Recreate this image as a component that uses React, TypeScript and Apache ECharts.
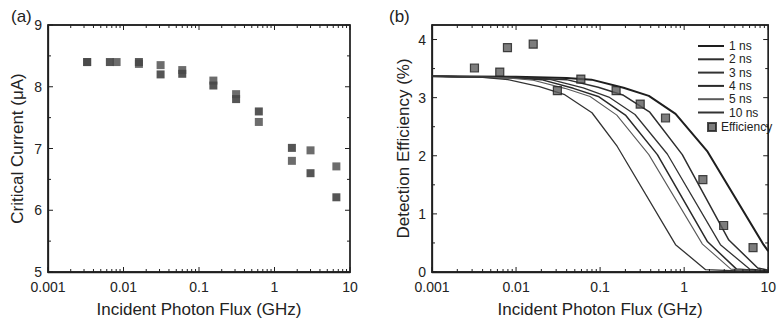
import React, { useEffect, useRef } from 'react';
import * as echarts from 'echarts';

// ---------- axis structure ----------
const X_TICK_LABELS = ['0.001', '0.01', '0.1', '1', '10'];
const X_MIN = 0.001;
const X_MAX = 10;
const X_MAJORS = [0.001, 0.01, 0.1, 1, 10];
const DECADES = [0.001, 0.01, 0.1, 1];
const MINOR_MULTS = [2, 3, 4, 5, 6, 7, 8, 9];
const LEFT_Y_MIN = 5;
const LEFT_Y_MAX = 9;
const LEFT_Y_MAJORS = [5, 6, 7, 8, 9];
const LEFT_Y_MINORS = [5.5, 6.5, 7.5, 8.5];
const RIGHT_Y_MIN = 0;
const RIGHT_Y_MAX = 4.25;
const RIGHT_Y_MAJORS = [0, 1, 2, 3, 4];
const RIGHT_Y_MINORS = [0.5, 1.5, 2.5, 3.5];

// ---------- (a) critical current ----------
const CURRENT_SET_A: [number, number][] = [
  [0.0033, 8.4], [0.0066, 8.4], [0.016, 8.4], [0.031, 8.2], [0.06, 8.21],
  [0.155, 8.02], [0.31, 7.8], [0.62, 7.6], [1.7, 7.01], [3.0, 6.6], [6.6, 6.21],
];
const CURRENT_SET_B: [number, number][] = [
  [0.0033, 8.4], [0.0081, 8.4], [0.016, 8.37], [0.031, 8.35], [0.06, 8.27],
  [0.155, 8.1], [0.31, 7.88], [0.62, 7.43], [1.7, 6.8], [3.0, 6.97], [6.6, 6.71],
];

// ---------- (b) detection efficiency ----------
const EFFICIENCY: [number, number][] = [
  [0.0032, 3.51], [0.0064, 3.44], [0.0079, 3.86], [0.016, 3.92], [0.031, 3.12],
  [0.059, 3.32], [0.155, 3.12], [0.3, 2.89], [0.6, 2.65], [1.67, 1.59],
  [2.95, 0.8], [6.6, 0.42],
];
const CURVE_1NS: [number, number][] = [
  [0.001, 3.37], [0.01, 3.36], [0.04, 3.34], [0.079, 3.31], [0.19, 3.17],
  [0.38, 3.03], [0.79, 2.72], [1.9, 2.07], [8.8, 0.47], [10, 0.36],
];
const CURVE_2NS: [number, number][] = [
  [0.001, 3.37], [0.01, 3.35], [0.04, 3.31], [0.095, 3.18], [0.19, 3.04],
  [0.39, 2.75], [0.95, 2.02], [3.4, 0.55], [7.5, 0.07], [10, 0.03],
];
const CURVE_3NS: [number, number][] = [
  [0.001, 3.37], [0.01, 3.34], [0.026, 3.31], [0.063, 3.17], [0.127, 3.01],
  [0.26, 2.71], [0.63, 2.03], [2.7, 0.47], [6.0, 0.05], [10, 0.02],
];
const CURVE_4NS: [number, number][] = [
  [0.001, 3.37], [0.01, 3.34], [0.02, 3.31], [0.048, 3.16], [0.095, 3.02],
  [0.2, 2.7], [0.48, 2.02], [1.9, 0.52], [4.2, 0.05], [10, 0.01],
];
const CURVE_5NS: [number, number][] = [
  [0.001, 3.37], [0.008, 3.34], [0.016, 3.3], [0.038, 3.16], [0.076, 3.02],
  [0.158, 2.7], [0.38, 2.02], [1.65, 0.48], [3.6, 0.05], [10, 0.0],
];
const CURVE_10NS: [number, number][] = [
  [0.001, 3.37], [0.004, 3.35], [0.008, 3.31], [0.019, 3.19], [0.038, 3.05],
  [0.08, 2.74], [0.16, 2.16], [0.79, 0.47], [1.8, 0.04], [10, 0.0],
];
const CURVE_NAMES = ['1 ns', '2 ns', '3 ns', '4 ns', '5 ns', '10 ns'];
const CURVES = [CURVE_1NS, CURVE_2NS, CURVE_3NS, CURVE_4NS, CURVE_5NS, CURVE_10NS];
const CURVE_COLORS = ['#1e1e1e', '#2e2e2e', '#333333', '#2a2a2a', '#5a5a5a', '#333333'];
const CURVE_WIDTHS = [2, 1.5, 1.3, 1.5, 1.1, 1.3];

const FONT = 'Liberation Sans, Arial, sans-serif';
const INK = '#222222';

const GRID_A = { left: 48, top: 25, width: 302, height: 250 };
const GRID_B = { left: 432, top: 25, width: 338, height: 249 };
const MAJOR_LEN = 5;
const MINOR_LEN = 3;

const minorTickXs = DECADES.flatMap((d) => MINOR_MULTS.map((m) => +(d * m).toPrecision(3)));

type Tick = { x: number; y: number; dx: number; dy: number };

function xLabel(v: number): string {
  const e = Math.round(Math.log10(v));
  return X_TICK_LABELS[e + 3] ?? '';
}

function buildTicks(yMin: number, yMax: number, yMajors: number[], yMinors: number[]): Tick[] {
  const t: Tick[] = [];
  X_MAJORS.forEach((x) => {
    t.push({ x, y: yMin, dx: 0, dy: -MAJOR_LEN });
    t.push({ x, y: yMax, dx: 0, dy: MAJOR_LEN });
  });
  minorTickXs.forEach((x) => {
    t.push({ x, y: yMin, dx: 0, dy: -MINOR_LEN });
    t.push({ x, y: yMax, dx: 0, dy: MINOR_LEN });
  });
  yMajors.forEach((y) => {
    t.push({ x: X_MIN, y, dx: MAJOR_LEN, dy: 0 });
    t.push({ x: X_MAX, y, dx: -MAJOR_LEN, dy: 0 });
  });
  yMinors.forEach((y) => {
    t.push({ x: X_MIN, y, dx: MINOR_LEN, dy: 0 });
    t.push({ x: X_MAX, y, dx: -MINOR_LEN, dy: 0 });
  });
  return t;
}

// Frame + ticks in one custom series per panel, anchored on the panel's scales
function axesFrameSeries(name: string, idx: number, yMin: number, yMax: number, ticks: Tick[]) {
  return {
    name,
    type: 'custom',
    xAxisIndex: idx,
    yAxisIndex: idx,
    clip: false,
    z: 6,
    dimensions: ['x', 'y'],
    encode: { x: 0, y: 1 },
    data: [[X_MIN, yMin]],
    renderItem: (_params: any, api: any) => {
      const a = api.coord([X_MIN, yMin]);
      const b = api.coord([X_MAX, yMax]);
      const children: any[] = [
        {
          type: 'rect',
          shape: { x: a[0], y: b[1], width: b[0] - a[0], height: a[1] - b[1] },
          style: { fill: 'rgba(0,0,0,0)', stroke: '#1f1f1f', lineWidth: 1.3 },
        },
      ];
      ticks.forEach((t) => {
        const p = api.coord([t.x, t.y]);
        children.push({
          type: 'line',
          shape: { x1: p[0], y1: p[1], x2: p[0] + t.dx, y2: p[1] + t.dy },
          style: { stroke: '#1f1f1f', lineWidth: 1 },
        });
      });
      return { type: 'group', children };
    },
  };
}

function xAxisDef(grid: number) {
  return {
    type: 'log',
    logBase: 10,
    gridIndex: grid,
    min: X_MIN,
    max: X_MAX,
    splitLine: { show: false },
    axisLine: { show: true, onZero: false, lineStyle: { color: INK, width: 1.3 } },
    axisTick: { show: false },
    axisLabel: { formatter: xLabel, fontSize: 14, color: INK, fontFamily: FONT, margin: 8 },
    name: 'Incident Photon Flux (GHz)',
    nameLocation: 'middle',
    nameGap: 29,
    nameTextStyle: { fontSize: 17, color: INK, fontFamily: FONT },
  };
}

function yAxisDef(grid: number, min: number, max: number, name: string, nameGap: number) {
  return {
    type: 'value',
    gridIndex: grid,
    min,
    max,
    interval: 1,
    splitLine: { show: false },
    axisLine: { show: true, onZero: false, lineStyle: { color: INK, width: 1.3 } },
    axisTick: { show: false },
    axisLabel: {
      formatter: (v: number) => (Math.abs(v - Math.round(v)) < 1e-9 ? String(Math.round(v)) : ''),
      fontSize: 14,
      color: INK,
      fontFamily: FONT,
      margin: 6,
    },
    name,
    nameLocation: 'middle',
    nameGap,
    nameTextStyle: { fontSize: 17, color: INK, fontFamily: FONT },
  };
}

function buildOption() {
  const series: any[] = [
    {
      name: 'Ic A',
      type: 'scatter',
      xAxisIndex: 0,
      yAxisIndex: 0,
      symbol: 'rect',
      symbolSize: 8,
      itemStyle: { color: '#2a2a2a' },
      data: CURRENT_SET_A,
      z: 3,
    },
    {
      name: 'Ic B',
      type: 'scatter',
      xAxisIndex: 0,
      yAxisIndex: 0,
      symbol: 'rect',
      symbolSize: 8,
      itemStyle: { color: '#474747' },
      data: CURRENT_SET_B,
      z: 3,
    },
    ...CURVES.map((c, i) => ({
      name: CURVE_NAMES[i],
      type: 'line',
      xAxisIndex: 1,
      yAxisIndex: 1,
      symbol: 'none',
      showSymbol: false,
      lineStyle: { color: CURVE_COLORS[i], width: CURVE_WIDTHS[i] },
      itemStyle: { color: CURVE_COLORS[i] },
      data: c,
      z: 2,
    })),
    {
      name: 'Efficiency',
      type: 'scatter',
      xAxisIndex: 1,
      yAxisIndex: 1,
      symbol: 'rect',
      symbolSize: 8,
      itemStyle: { color: '#5c5c5c', borderColor: '#1e1e1e', borderWidth: 1.2 },
      data: EFFICIENCY,
      z: 4,
    },
    axesFrameSeries('axes a', 0, LEFT_Y_MIN, LEFT_Y_MAX,
      buildTicks(LEFT_Y_MIN, LEFT_Y_MAX, LEFT_Y_MAJORS, LEFT_Y_MINORS)),
    axesFrameSeries('axes b', 1, RIGHT_Y_MIN, RIGHT_Y_MAX,
      buildTicks(RIGHT_Y_MIN, RIGHT_Y_MAX, RIGHT_Y_MAJORS, RIGHT_Y_MINORS)),
  ];

  return {
    animation: false,
    backgroundColor: '#ffffff',
    textStyle: { fontFamily: FONT },
    title: [
      { text: '(a)', left: 6, top: 3, textStyle: { fontSize: 17, fontWeight: 'normal', color: INK, fontFamily: FONT } },
      { text: '(b)', left: 384, top: 3, textStyle: { fontSize: 17, fontWeight: 'normal', color: INK, fontFamily: FONT } },
    ],
    grid: [
      { ...GRID_A, show: true, borderColor: INK, borderWidth: 1.3, backgroundColor: 'rgba(0,0,0,0)' },
      { ...GRID_B, show: true, borderColor: INK, borderWidth: 1.3, backgroundColor: 'rgba(0,0,0,0)' },
    ],
    legend: [
      {
        data: CURVE_NAMES,
        orient: 'vertical',
        left: 697,
        top: 40,
        padding: 0,
        itemWidth: 26,
        itemHeight: 10,
        itemGap: 1.3,
        selectedMode: false,
        itemStyle: { opacity: 0 },
        textStyle: { fontSize: 12, color: INK, fontFamily: FONT },
      },
      {
        data: ['Efficiency'],
        orient: 'vertical',
        left: 707,
        top: 121,
        padding: 0,
        itemWidth: 8,
        itemHeight: 8,
        selectedMode: false,
        textStyle: { fontSize: 12, color: INK, fontFamily: FONT },
      },
    ],
    xAxis: [xAxisDef(0), xAxisDef(1)],
    yAxis: [
      yAxisDef(0, LEFT_Y_MIN, LEFT_Y_MAX, 'Critical Current (\u03bcA)', 22),
      yAxisDef(1, RIGHT_Y_MIN, RIGHT_Y_MAX, 'Detection Efficiency (%)', 20),
    ],
    series,
  };
}

export default function App() {
  const ref = useRef<HTMLDivElement>(null);
  useEffect(() => {
    if (!ref.current) return;
    const chart = echarts.init(ref.current, null, { renderer: 'svg' });
    chart.setOption(buildOption() as any);
    return () => chart.dispose();
  }, []);
  return (
    <div
      ref={ref}
      style={{ position: 'absolute', left: 0, top: 0, width: 779, height: 323, background: '#fff' }}
    />
  );
}
